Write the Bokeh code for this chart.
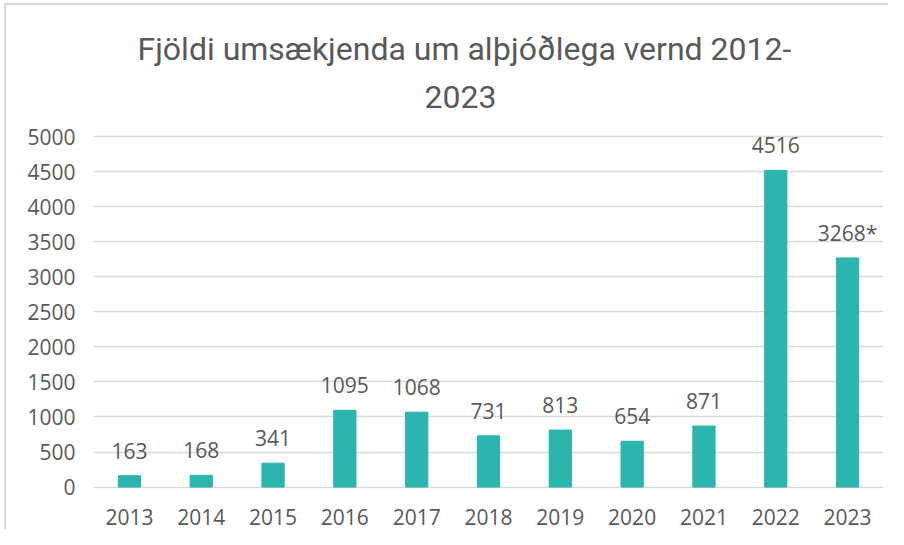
from bokeh.plotting import figure
from bokeh.models import ColumnDataSource, LabelSet, Title, FixedTicker, Range1d, FactorRange
from bokeh.layouts import column
from bokeh.core.properties import value
from bokeh.embed import file_html
from bokeh.resources import INLINE

years = ["2013", "2014", "2015", "2016", "2017", "2018", "2019", "2020", "2021", "2022", "2023"]
applicants = [163, 168, 341, 1095, 1068, 731, 813, 654, 871, 4516, 3268]
labels = ["163", "168", "341", "1095", "1068", "731", "813", "654", "871", "4516", "3268*"]
y_ticks = [0, 500, 1000, 1500, 2000, 2500, 3000, 3500, 4000, 4500, 5000]
title_lines = ["Fjöldi umsækjenda um alþjóðlega vernd 2012-", "2023"]

FONT = "Open Sans"
TITLE_FONT = "Roboto"
TXT = "#595959"
GRID = "#d9d9d9"
BAR = "#2bb5ae"

source = ColumnDataSource(dict(year=years, n=applicants, lab=labels))

p = figure(width=882, height=524, x_range=FactorRange(*years), y_range=Range1d(-20, 5200),
           output_backend="svg", toolbar_location=None,
           min_border_left=87, min_border_right=5, min_border_top=117, min_border_bottom=41)

p.vbar(x="year", top="n", width=0.31, source=source, color=BAR, line_color=BAR)

p.add_layout(LabelSet(x="year", y="n", text="lab", source=source, text_align="center",
                      text_baseline="alphabetic", y_offset=17, text_font=value(FONT),
                      text_font_size="21px", text_color=TXT))

# title as two lines (second line added first: it sits nearest the plot)
offsets = [44, 331]
standoffs = [6, 26]
for i in (1, 0):
    p.add_layout(Title(text=title_lines[i], align="left", offset=offsets[i], standoff=standoffs[i],
                       vertical_align="top",
                       text_font=TITLE_FONT, text_font_size="32px", text_font_style="normal",
                       text_color=TXT), "above")

p.yaxis.ticker = FixedTicker(ticks=y_ticks)
p.ygrid.ticker = FixedTicker(ticks=y_ticks)
p.xgrid.grid_line_color = None
p.ygrid.grid_line_color = GRID
p.ygrid.grid_line_width = 1.5

for ax in (p.xaxis, p.yaxis):
    ax.axis_line_color = None
    ax.major_tick_line_color = None
    ax.minor_tick_line_color = None
    ax.major_label_text_font = FONT
    ax.major_label_text_font_size = "21px"
    ax.major_label_text_color = TXT
p.yaxis.major_label_standoff = 12
p.xaxis.major_label_standoff = 14

p.outline_line_color = None

layout = column(p, styles={"border-top": "2px solid #d9d9d9", "border-left": "2px solid #d9d9d9",
                           "margin-top": "3px", "margin-left": "4px"})

open("out.html", "w").write(file_html(layout, INLINE))
